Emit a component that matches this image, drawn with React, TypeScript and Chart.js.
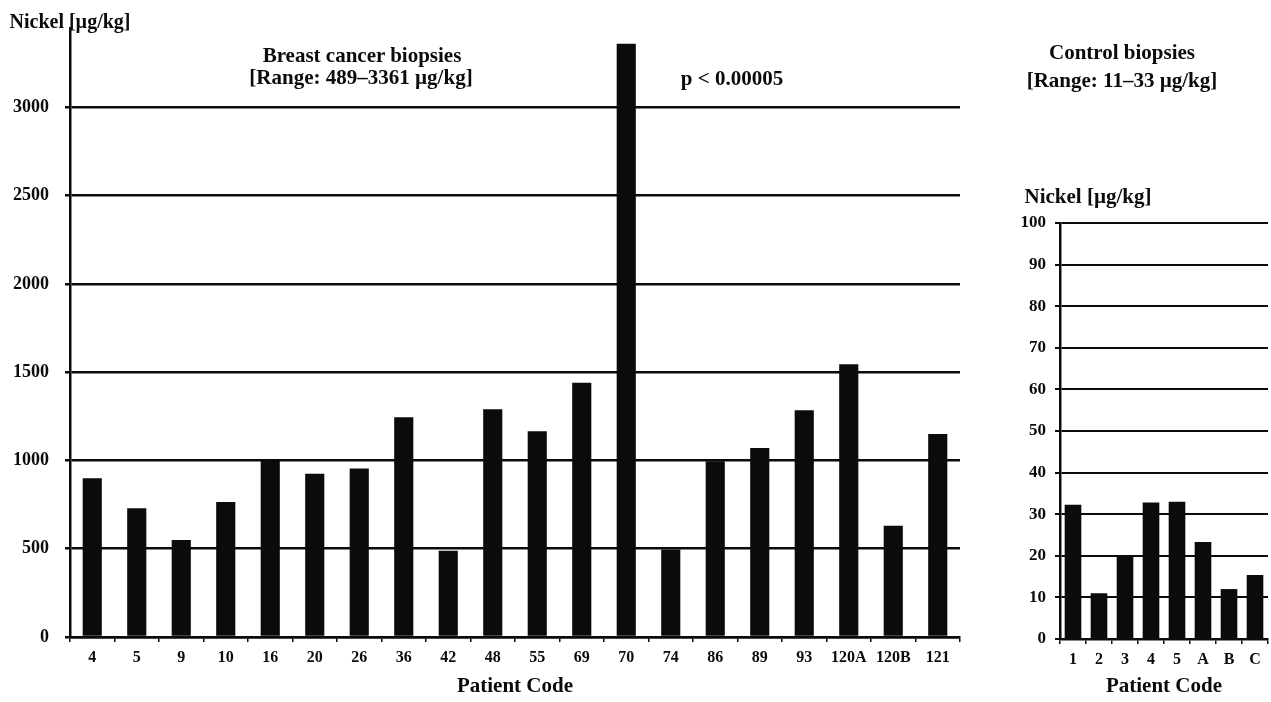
import React, { useEffect, useRef } from "react";
import { Chart, registerables } from "chart.js";

Chart.register(...registerables);

const breastCodes = ["4", "5", "9", "10", "16", "20", "26", "36", "42", "48", "55", "69", "70", "74", "86", "89", "93", "120A", "120B", "121"];
const breastNickel = [900, 730, 550, 765, 1000, 925, 955, 1245, 489, 1290, 1165, 1440, 3361, 495, 995, 1070, 1285, 1545, 630, 1150];
const breastTicks = [0, 500, 1000, 1500, 2000, 2500, 3000];
const controlCodes = ["1", "2", "3", "4", "5", "A", "B", "C"];
const controlNickel = [32.3, 11, 19.8, 32.8, 33, 23.3, 12, 15.4];
const controlTicks = [0, 10, 20, 30, 40, 50, 60, 70, 80, 90, 100];

const FONT = "'Liberation Serif', 'Times New Roman', serif";
const INK = "#0b0b0b";

function makeOptions(cfg: {
  yMax: number;
  tickValues: number[];
  yWidth: number;
  xHeight: number;
  padTop: number;
  padRight: number;
  yFont: number;
  yPad: number;
  gridWidth: number;
}) {
  return {
    responsive: false,
    animation: false as const,
    devicePixelRatio: 1,
    layout: { padding: { top: cfg.padTop, right: cfg.padRight, left: 0, bottom: 0 } },
    plugins: { legend: { display: false }, tooltip: { enabled: false }, title: { display: false } },
    scales: {
      x: {
        type: "category" as const,
        afterFit: (s: any) => {
          s.height = cfg.xHeight;
        },
        border: { display: true, color: INK, width: 2.5 },
        grid: { display: true, drawOnChartArea: false, drawTicks: true, tickLength: 5, color: INK, lineWidth: 1.5 },
        ticks: { color: INK, padding: 6, font: { family: FONT, weight: "bold" as const, size: 16 }, maxRotation: 0, autoSkip: false },
        title: {
          display: true,
          text: "Patient Code",
          color: INK,
          font: { family: FONT, weight: "bold" as const, size: 21 },
          padding: { top: 0, bottom: 3 },
        },
      },
      y: {
        min: 0,
        max: cfg.yMax,
        afterFit: (s: any) => {
          s.width = cfg.yWidth;
        },
        afterBuildTicks: (s: any) => {
          s.ticks = cfg.tickValues.map((v) => ({ value: v }));
        },
        border: { display: true, color: INK, width: 2.5 },
        grid: { display: true, drawTicks: true, tickLength: 5, color: INK, lineWidth: cfg.gridWidth },
        ticks: {
          color: INK,
          padding: cfg.yPad,
          font: { family: FONT, weight: "bold" as const, size: cfg.yFont },
          callback: (v: any) => String(v),
        },
      },
    },
  };
}

function BarCanvas(props: {
  labels: string[];
  values: number[];
  width: number;
  barPct: number;
  opts: any;
}) {
  const ref = useRef<HTMLCanvasElement | null>(null);
  useEffect(() => {
    if (!ref.current) return;
    const chart = new Chart(ref.current, {
      type: "bar",
      data: {
        labels: props.labels,
        datasets: [
          {
            data: props.values,
            backgroundColor: INK,
            borderWidth: 0,
            barPercentage: props.barPct,
            categoryPercentage: 1,
          },
        ],
      },
      options: props.opts,
    });
    return () => chart.destroy();
  }, []);
  return <canvas ref={ref} width={props.width} height={702} style={{ width: props.width, height: 702, display: "block" }} />;
}

const txt = (x: number, y: number, size: number, text: string) => (
  <div
    style={{
      position: "absolute",
      left: x,
      top: y,
      transform: "translate(-50%, -50%)",
      fontFamily: FONT,
      fontWeight: "bold",
      fontSize: size,
      color: INK,
      whiteSpace: "nowrap",
      lineHeight: 1,
    }}
  >
    {text}
  </div>
);

export default function App() {
  const leftOpts = makeOptions({
    yMax: 3450,
    tickValues: breastTicks,
    yWidth: 70,
    xHeight: 65,
    padTop: 28,
    padRight: 25,
    yFont: 18,
    yPad: 16,
    gridWidth: 2.5,
  });
  const rightOpts = makeOptions({
    yMax: 100,
    tickValues: controlTicks,
    yWidth: 75,
    xHeight: 63,
    padTop: 223,
    padRight: 3,
    yFont: 17,
    yPad: 9,
    gridWidth: 2,
  });
  return (
    <div style={{ position: "fixed", left: 0, top: 0, width: 1271, height: 702, background: "#fff", overflow: "hidden" }}>
      <div style={{ position: "absolute", left: 0, top: 0 }}>
        <BarCanvas labels={breastCodes} values={breastNickel} width={985} barPct={0.43} opts={leftOpts} />
      </div>
      <div style={{ position: "absolute", left: 985, top: 0 }}>
        <BarCanvas labels={controlCodes} values={controlNickel} width={286} barPct={0.64} opts={rightOpts} />
      </div>
      {txt(70, 21, 20, "Nickel [µg/kg]")}
      {txt(362, 55, 21, "Breast cancer biopsies")}
      {txt(361, 77, 21, "[Range: 489–3361 µg/kg]")}
      {txt(732, 78, 21, "p < 0.00005")}
      {txt(1122, 52, 21, "Control biopsies")}
      {txt(1122, 80, 21, "[Range: 11–33 µg/kg]")}
      {txt(1088, 196, 21, "Nickel [µg/kg]")}
    </div>
  );
}
